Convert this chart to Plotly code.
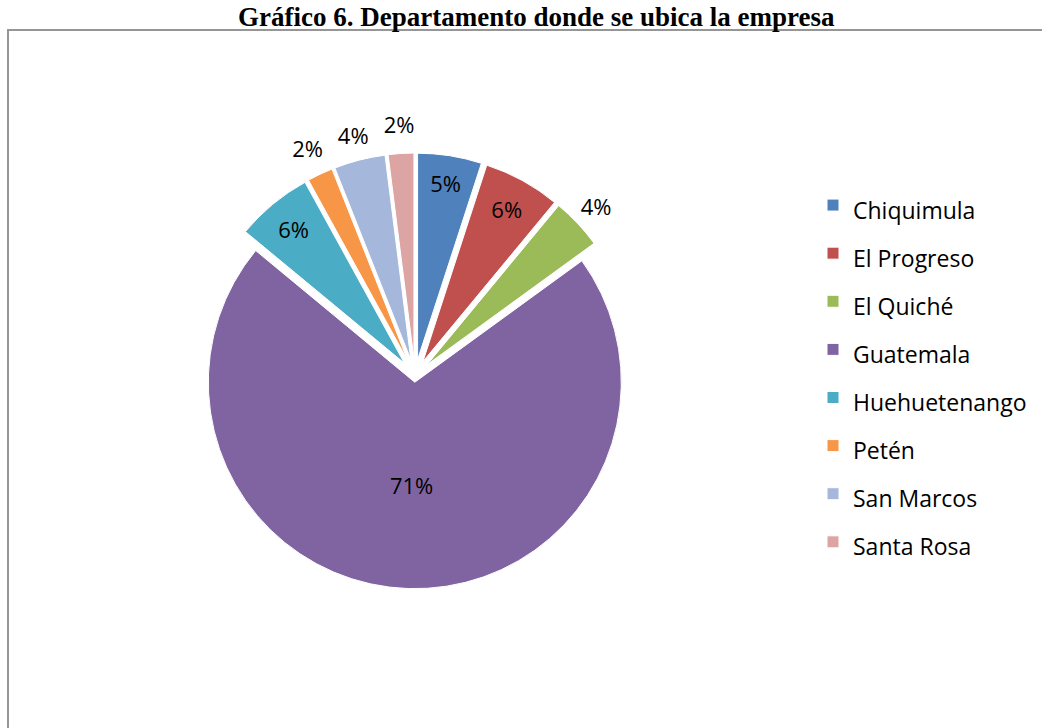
import plotly.graph_objects as go

# Departamentos y porcentaje de empresas
departamentos = ["Chiquimula", "El Progreso", "El Quiché", "Guatemala",
                 "Huehuetenango", "Petén", "San Marcos", "Santa Rosa"]
porcentajes = [5, 6, 4, 71, 6, 2, 4, 2]
colores = ["#4F81BD", "#C0504D", "#9BBB59", "#8064A2",
           "#4BACC6", "#F79646", "#A5B8DC", "#DCA5A3"]
# which percentage sits on the slice and which one sits beyond its edge
etiqueta_fuera = [False, False, True, False, False, True, True, True]
separacion = [0.08, 0.08, 0.08, 0.03, 0.08, 0.08, 0.08, 0.08]

W, H = 1042, 728
FONT = "Open Sans"
TXT = 22
TOP = 30                        # top edge of the chart frame, px

# the legend row height follows the legend font size; the visible text is
# set smaller through a span so the rows keep a wide spacing
etiquetas = [f"<span style='font-size:23px'>{d}</span>" for d in departamentos]

cx, cy = 415, 376
box = 446                       # main pie box (radius = box / 2.16 with pull)
r_pie = box / (2 + 2 * max(separacion))
r_ring = 268                    # transparent ring carrying the outer labels


def dominio(cx, cy, half):
    return dict(x=[(cx - half) / W, (cx + half) / W],
                y=[1 - (cy + half) / H, 1 - (cy - half) / H])


pie = go.Pie(
    labels=etiquetas,
    values=porcentajes,
    sort=False,
    direction="clockwise",
    rotation=0,
    pull=separacion,
    marker=dict(colors=colores, line=dict(color="white", width=1)),
    texttemplate="%{value}%",
    textposition=["none" if f else "inside" for f in etiqueta_fuera],
    insidetextorientation="horizontal",
    textfont=dict(family=FONT, size=TXT, color="black"),
    hovertemplate="%{label}: %{value}%<extra></extra>",
    domain=dominio(cx, cy, box / 2),
)

# same values on an invisible ring around the pie: its slice texts land
# just outside the matching coloured slices
anillo = go.Pie(
    labels=departamentos,
    values=porcentajes,
    sort=False,
    direction="clockwise",
    rotation=0,
    hole=(r_pie * 1.08 + 6) / r_ring,
    marker=dict(colors=["rgba(0,0,0,0)"] * len(porcentajes),
                line=dict(width=0)),
    texttemplate="%{value}%",
    textposition=["inside" if f else "none" for f in etiqueta_fuera],
    insidetextorientation="horizontal",
    textfont=dict(family=FONT, size=TXT, color="black"),
    hoverinfo="skip",
    showlegend=False,
    domain=dominio(cx, cy, r_ring),
)

fig = go.Figure([anillo, pie])

fig.update_layout(
    width=W, height=H,
    margin=dict(l=0, r=0, t=0, b=0),
    paper_bgcolor="white",
    font=dict(family=FONT, color="black"),
    uniformtext=dict(minsize=TXT, mode="show"),
    showlegend=True,
    legend=dict(
        x=813 / W, y=1 - 176 / H, xanchor="left", yanchor="top",
        font=dict(family=FONT, size=34.7, color="black"),
        bgcolor="rgba(0,0,0,0)",
    ),
    annotations=[dict(
        text="<b>Gráfico 6. Departamento donde se ubica la empresa</b>",
        x=536 / W, y=1, xref="paper", yref="paper",
        xanchor="center", yanchor="top", showarrow=False,
        font=dict(family="Liberation Serif", size=27, color="black"),
    )],
    shapes=[dict(
        type="rect", xref="paper", yref="paper",
        x0=8 / W, x1=1.02, y0=-0.02, y1=1 - TOP / H,
        line=dict(color="#969696", width=2), layer="below",
    )],
)

fig.write_html("out.html")
